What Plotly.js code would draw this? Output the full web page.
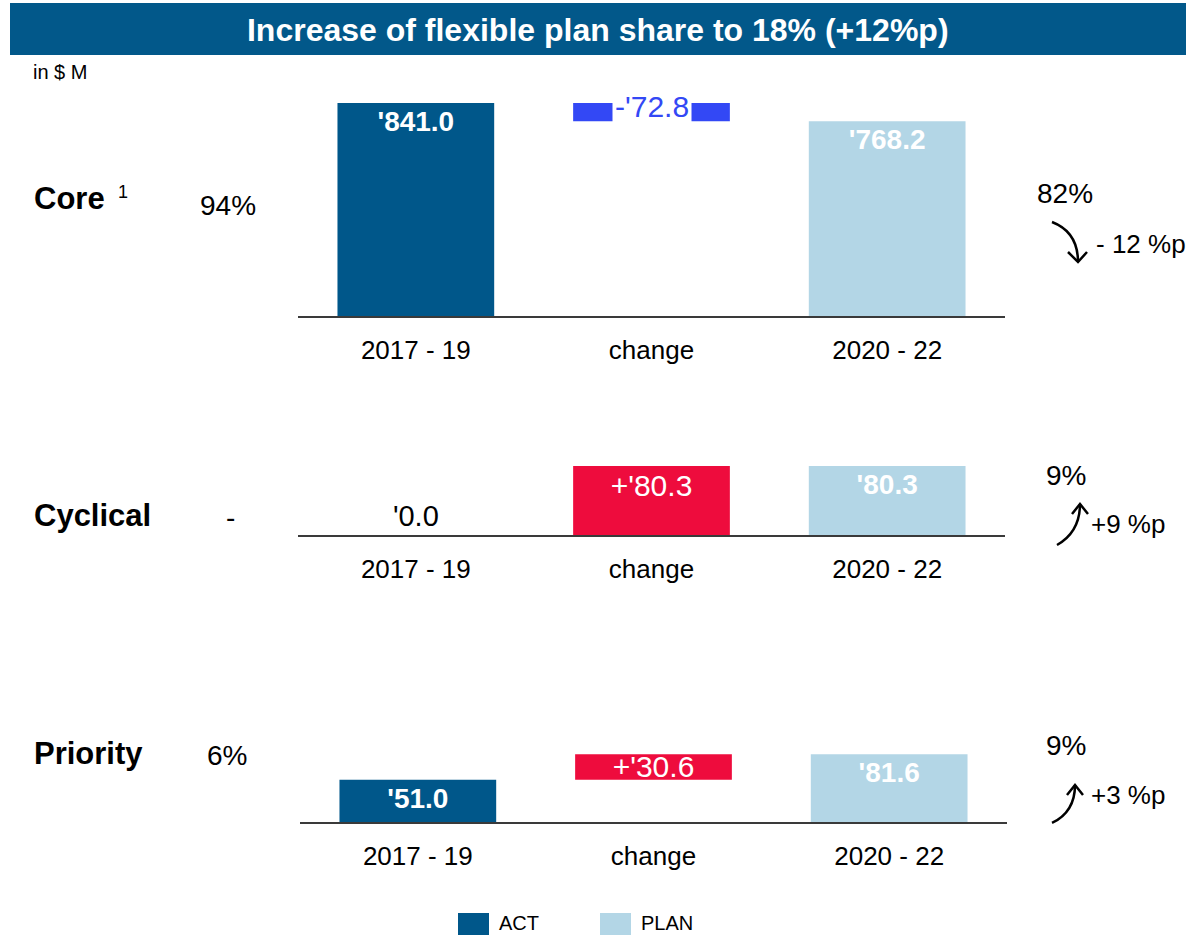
<!DOCTYPE html>
<html>
<head>
<meta charset="utf-8">
<script src="https://cdn.plot.ly/plotly-3.0.1.min.js"></script>
<style>html,body{margin:0;padding:0;background:#fff;}#chart{width:1186px;height:935px;}</style>
</head>
<body>
<div id="chart"></div>
<script>
// ---- data ----
const categories = ['2017 - 19', 'change', '2020 - 22'];
const segments = ['Core', 'Cyclical', 'Priority'];
const actValues = [841.0, 0.0, 51.0];
const planValues = [768.2, 80.3, 81.6];
const changeValues = [-72.8, 80.3, 30.6];
const shareAct = ['94%', '-', '6%'];
const sharePlan = ['82%', '9%', '9%'];
const shareChange = ['- 12 %p', '+9 %p', '+3 %p'];
const legendLabels = ['ACT', 'PLAN'];

// ---- style ----
const W = 1186, H = 935;
const FONT = '"Liberation Sans", Arial, sans-serif';
const C_ACT = '#00578a', C_PLAN = '#b3d6e6', C_NEG = '#3348f5', C_POS = '#ee0c3d';
const px = x => x / W, py = y => 1 - y / H;

// panel geometry (pixel)
const panels = [
  {x0: 298, x1: 1005, top: 93, base: 316, yMax: 880},
  {x0: 298, x1: 1005, top: 449, base: 535, yMax: 100},
  {x0: 300, x1: 1007, top: 739, base: 822, yMax: 100}
];
const rowY = [198, 515, 753];
const rightY = [193, 475, 745];
const rightPtY = [244, 524, 795];

const traces = [];
const layout = {
  width: W, height: H,
  margin: {l: 0, r: 0, t: 0, b: 0},
  paper_bgcolor: '#fff', plot_bgcolor: 'rgba(0,0,0,0)',
  showlegend: false,
  barmode: 'overlay',
  font: {family: FONT, color: '#000'},
  title: {text: 'Increase of flexible plan share to 18% (+12%p)', font: {family: FONT, size: 32, color: '#fff', weight: 'bold'},
          x: 0.504, xanchor: 'center', y: py(30), yanchor: 'middle', yref: 'paper'},
  shapes: [], annotations: []
};

const fmt = v => "'" + Math.abs(v).toFixed(1);

segments.forEach((seg, i) => {
  const p = panels[i];
  const sfx = i === 0 ? '' : String(i + 1);
  const xa = 'x' + sfx, ya = 'y' + sfx;
  layout['xaxis' + sfx] = {
    domain: [px(p.x0), px(p.x1)], anchor: ya, type: 'category',
    categoryorder: 'array', categoryarray: categories, range: [-0.5, 2.5],
    showline: true, linecolor: '#3a3a3a', linewidth: 1.5, showgrid: false, zeroline: false,
    ticks: '', tickfont: {size: 26, color: '#000', family: FONT}, ticklabelstandoff: 10, fixedrange: true
  };
  layout['yaxis' + sfx] = {
    domain: [py(p.base), py(p.top)], anchor: xa, range: [0, p.yMax],
    visible: false, showgrid: false, zeroline: false, fixedrange: true
  };
  const actZero = actValues[i] === 0;
  // ACT bar
  traces.push({
    type: 'bar', x: [categories[0]], y: [actValues[i]], xaxis: xa, yaxis: ya, width: 0.665,
    marker: {color: C_ACT}, text: [fmt(actValues[i])],
    textposition: actZero ? 'outside' : 'inside', insidetextanchor: 'end', constraintext: 'none',
    textfont: actZero ? {size: 29, color: '#000', family: FONT} : {size: 28, color: '#fff', family: FONT, weight: 'bold'},
    cliponaxis: false, hoverinfo: 'skip'
  });
  // change bar (floating)
  const ch = changeValues[i];
  const neg = ch < 0;
  traces.push({
    type: 'bar', x: [categories[1]], y: [Math.abs(ch)], base: [Math.min(actValues[i], planValues[i])],
    xaxis: xa, yaxis: ya, width: 0.665, marker: {color: neg ? C_NEG : C_POS},
    text: neg ? [''] : ['+' + fmt(ch)], textposition: 'inside',
    insidetextanchor: i === 2 ? 'middle' : 'end', constraintext: 'none',
    textfont: {size: 30, color: '#fff', family: FONT}, cliponaxis: false, hoverinfo: 'skip'
  });
  if (neg) {
    layout.annotations.push({
      xref: xa, yref: ya, x: categories[1], y: Math.min(actValues[i], planValues[i]) + Math.abs(ch) / 2,
      text: '-' + fmt(ch), showarrow: false, bgcolor: '#fff', borderpad: 2,
      font: {size: 30, color: C_NEG, family: FONT}, yshift: 6
    });
  }
  // PLAN bar
  traces.push({
    type: 'bar', x: [categories[2]], y: [planValues[i]], xaxis: xa, yaxis: ya, width: 0.665,
    marker: {color: C_PLAN}, text: [fmt(planValues[i])], textposition: 'inside', insidetextanchor: 'end',
    constraintext: 'none', textfont: {size: 28, color: '#fff', family: FONT, weight: 'bold'},
    cliponaxis: false, hoverinfo: 'skip'
  });

  // row label
  layout.annotations.push({xref: 'paper', yref: 'paper', x: px(32), y: py(rowY[i]), xanchor: 'left', yanchor: 'middle',
    text: seg, showarrow: false, font: {size: 31, family: FONT, weight: 'bold', color: '#000'}});
  // left share
  const lx = shareAct[i] === '-' ? 224 : (i === 0 ? 198 : 205);
  layout.annotations.push({xref: 'paper', yref: 'paper', x: px(lx), y: py(rowY[i] + (i === 0 ? 7 : 2)), xanchor: 'left', yanchor: 'middle',
    text: shareAct[i], showarrow: false, font: {size: 28, family: FONT, color: '#000'}});
  // right share
  layout.annotations.push({xref: 'paper', yref: 'paper', x: px(i === 0 ? 1035 : 1044), y: py(rightY[i]), xanchor: 'left', yanchor: 'middle',
    text: sharePlan[i], showarrow: false, font: {size: 28, family: FONT, color: '#000'}});
  layout.annotations.push({xref: 'paper', yref: 'paper', x: px(i === 0 ? 1094 : 1089), y: py(rightPtY[i]), xanchor: 'left', yanchor: 'middle',
    text: shareChange[i], showarrow: false, font: {size: 26, family: FONT, color: '#000'}});
});

// superscript for Core
layout.annotations.push({xref: 'paper', yref: 'paper', x: px(116), y: py(192), xanchor: 'left', yanchor: 'middle',
  text: '1', showarrow: false, font: {size: 18, family: FONT, color: '#000'}});
// unit
layout.annotations.push({xref: 'paper', yref: 'paper', x: px(31), y: py(72), xanchor: 'left', yanchor: 'middle',
  text: 'in $ M', showarrow: false, font: {size: 20, family: FONT, color: '#000'}});

// title bar
layout.shapes.push({type: 'rect', xref: 'paper', yref: 'paper', x0: px(10), x1: 1, y0: py(55), y1: py(3),
  fillcolor: '#02588a', line: {width: 0}, layer: 'below'});

// curved arrows
function P(x, y) { return px(x).toFixed(5) + ',' + py(y).toFixed(5); }
const arrows = [
  {s: [1052, 222], c: [1078, 232], e: [1078, 262], a1: [1068, 252], a2: [1087, 252]},
  {s: [1057, 545], c: [1080, 532], e: [1080, 504], a1: [1072, 514], a2: [1088, 514]},
  {s: [1052, 823], c: [1075, 812], e: [1075, 785], a1: [1067, 795], a2: [1083, 795]}
];
arrows.forEach(a => {
  layout.shapes.push({type: 'path', xref: 'paper', yref: 'paper',
    path: 'M' + P(...a.s) + ' Q' + P(...a.c) + ' ' + P(...a.e), line: {color: '#000', width: 2.5}});
  layout.shapes.push({type: 'path', xref: 'paper', yref: 'paper',
    path: 'M' + P(...a.a1) + ' L' + P(...a.e) + ' L' + P(...a.a2), line: {color: '#000', width: 2.5}});
});

// legend (bottom)
const legColors = [C_ACT, C_PLAN];
const legX = [458, 600];
legendLabels.forEach((lab, k) => {
  layout.shapes.push({type: 'rect', xref: 'paper', yref: 'paper', x0: px(legX[k]), x1: px(legX[k] + 31),
    y0: py(935), y1: py(913), fillcolor: legColors[k], line: {width: 0}});
  layout.annotations.push({xref: 'paper', yref: 'paper', x: px(legX[k] + 40), y: py(934.5), xanchor: 'left', yanchor: 'bottom',
    text: lab, showarrow: false, borderpad: 0, font: {size: 20, family: FONT, color: '#000'}});
});

Plotly.newPlot('chart', traces, layout, {displayModeBar: false, staticPlot: true});
</script>
</body>
</html>
